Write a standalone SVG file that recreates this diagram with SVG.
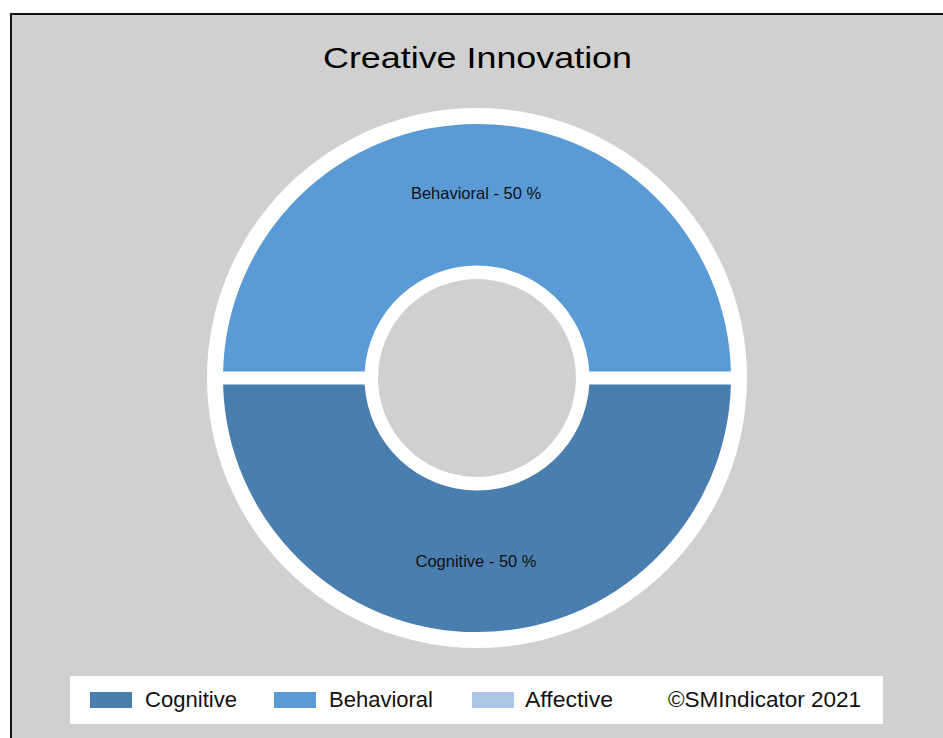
<svg xmlns="http://www.w3.org/2000/svg" width="943" height="738" viewBox="0 0 943 738">
<style>
text{font-family:"Liberation Sans",Arial,sans-serif;fill:#111}
.title{font-size:30px;fill:#000}
.lbl{font-size:16.5px}
.leg{font-size:21.5px}
.cog{fill:#4a7eae}
.beh{fill:#5b9bd5}
.aff{fill:#adc5e6}
</style>
<rect x="0" y="0" width="943" height="738" fill="#ffffff"/>
<rect x="11" y="14" width="940" height="730" fill="#d0d0d0" stroke="#111" stroke-width="2"/>
<text class="title" x="323" y="68" textLength="309" lengthAdjust="spacingAndGlyphs">Creative Innovation</text>
<g id="donut">
<circle cx="477" cy="378" r="270" fill="#ffffff"/>
<circle cx="477" cy="378" r="99" fill="#d0d0d0"/>
</g>
<g id="behavioral">
<path class="beh" d="M 223.08 371.5 A 254 254 0 0 1 730.92 371.5 L 589.31 371.5 A 112.5 112.5 0 0 0 364.69 371.5 Z"/>
<text class="lbl" x="476" y="199" text-anchor="middle">Behavioral - 50 %</text>
</g>
<g id="cognitive">
<path class="cog" d="M 223.08 384.5 A 254 254 0 0 0 730.92 384.5 L 589.31 384.5 A 112.5 112.5 0 0 1 364.69 384.5 Z"/>
<text class="lbl" x="476" y="567" text-anchor="middle">Cognitive - 50 %</text>
</g>
<g id="connectors"></g>
<g id="legend">
<rect x="70" y="676" width="813" height="48" fill="#ffffff"/>
<rect class="cog" x="90" y="692" width="42" height="16"/>
<text class="leg" x="145" y="707" textLength="92" lengthAdjust="spacingAndGlyphs">Cognitive</text>
<rect class="beh" x="274" y="692" width="42" height="16"/>
<text class="leg" x="329" y="707" textLength="104" lengthAdjust="spacingAndGlyphs">Behavioral</text>
<rect class="aff" x="472" y="692" width="42" height="16"/>
<text class="leg" x="525" y="707" textLength="88" lengthAdjust="spacingAndGlyphs">Affective</text>
<text class="leg" x="668" y="707" textLength="193" lengthAdjust="spacingAndGlyphs">©SMIndicator 2021</text>
</g>
</svg>
